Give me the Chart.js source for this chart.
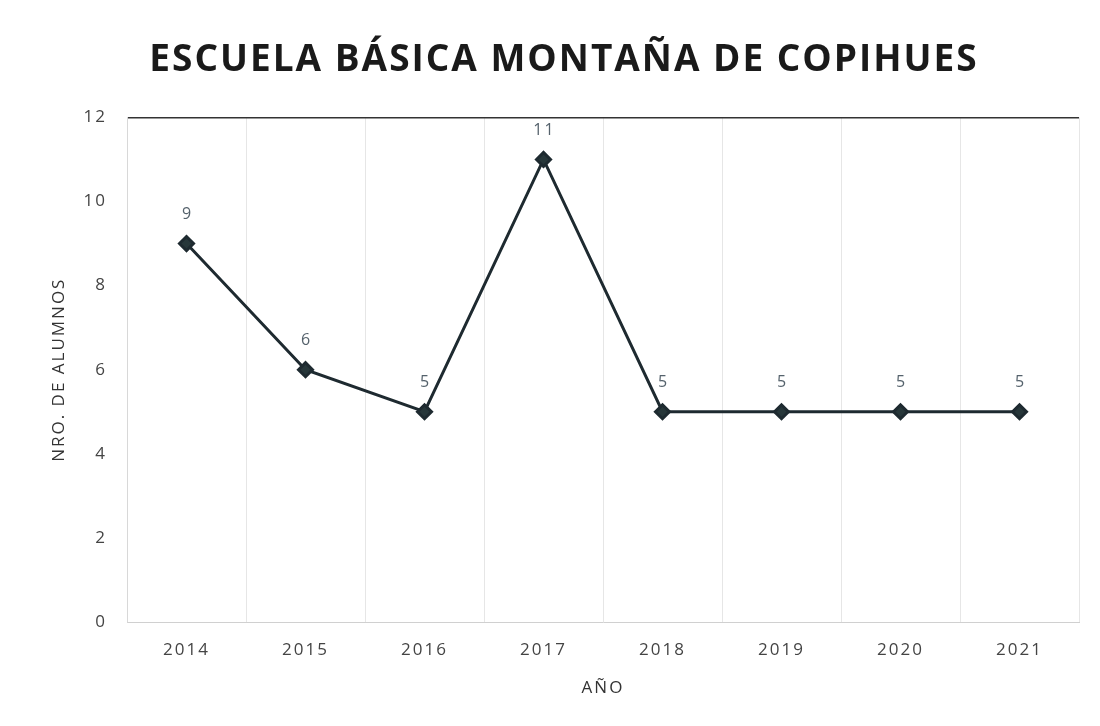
<!DOCTYPE html>
<html>
<head>
<meta charset="utf-8">
<script src="https://cdn.jsdelivr.net/npm/chart.js@4"></script>
<style>
  html, body { margin: 0; padding: 0; background: #fff; }
  #wrap { width: 1100px; height: 726px; position: relative; }
</style>
</head>
<body>
<div id="wrap"><canvas id="alumnosChart" width="1100" height="726"></canvas></div>
<script>
const years = ['2014', '2015', '2016', '2017', '2018', '2019', '2020', '2021'];
const alumnos = [9, 6, 5, 11, 5, 5, 5, 5];
const yTicks = [0, 2, 4, 6, 8, 10, 12];

const FONT = '"Open Sans", sans-serif';

// the scanned chart has widely spaced lettering
const spacing = {
  id: 'spacing',
  beforeLayout(chart) { chart.ctx.letterSpacing = '2px'; },
  beforeDraw(chart) { chart.ctx.letterSpacing = '2px'; }
};

// draw the value above every point
const pointLabels = {
  id: 'pointLabels',
  afterDatasetsDraw(chart) {
    const ctx = chart.ctx;
    const meta = chart.getDatasetMeta(0);
    ctx.save();
    ctx.font = '16px ' + FONT;
    ctx.fillStyle = '#55626c';
    ctx.textAlign = 'center';
    ctx.textBaseline = 'bottom';
    meta.data.forEach((pt, i) => {
      ctx.fillText(String(alumnos[i]), pt.x + 1, pt.y - 21);
    });
    ctx.restore();
  }
};

const ctx = document.getElementById('alumnosChart').getContext('2d');
new Chart(ctx, {
  type: 'line',
  data: {
    labels: years,
    datasets: [{
      label: 'Alumnos',
      data: alumnos,
      borderColor: '#1e2a30',
      backgroundColor: '#1e2a30',
      borderWidth: 3,
      pointStyle: 'rectRot',
      pointRadius: 7,
      pointBackgroundColor: '#27373a',
      pointBorderColor: '#1e2a30',
      tension: 0
    }]
  },
  options: {
    responsive: false,
    animation: false,
    layout: { padding: { top: 20, left: 49, right: 21, bottom: 26 } },
    plugins: {
      legend: { display: false },
      tooltip: { enabled: false },
      title: {
        display: true,
        text: 'ESCUELA BÁSICA MONTAÑA DE COPIHUES',
        color: '#1a1a1a',
        font: { family: FONT, size: 37, weight: 'bold' },
        padding: { top: 18, bottom: 35 }
      }
    },
    scales: {
      x: {
        offset: true,
        afterFit: (scale) => { scale.height = 78; },
        grid: {
          offset: true,
          drawTicks: false,
          color: (c) => c.index === years.length ? '#777' : '#e6e6e6',
          lineWidth: (c) => c.index === years.length ? 1.5 : 1
        },
        border: { color: '#d0d0d0' },
        ticks: {
          color: '#444',
          padding: 18,
          font: { family: FONT, size: 17 }
        },
        title: {
          display: true,
          text: 'AÑO',
          color: '#333',
          padding: { top: 18, bottom: 2 },
          font: { family: FONT, size: 17 }
        }
      },
      y: {
        min: 0,
        max: 12,
        afterFit: (scale) => { scale.width = 78; },
        afterBuildTicks: (axis) => { axis.ticks = yTicks.map(v => ({ value: v })); },
        grid: {
          drawTicks: false,
          color: (c) => c.tick && c.tick.value === 12 ? '#333' : 'rgba(0,0,0,0)',
          lineWidth: 1.5
        },
        border: { color: '#d8d8d8' },
        ticks: {
          color: '#444',
          padding: 20,
          font: { family: FONT, size: 17 }
        },
        title: {
          display: true,
          text: 'NRO. DE ALUMNOS',
          color: '#333',
          padding: { top: 0, bottom: 10 },
          font: { family: FONT, size: 17 }
        }
      }
    }
  },
  plugins: [spacing, pointLabels]
});
</script>
</body>
</html>
